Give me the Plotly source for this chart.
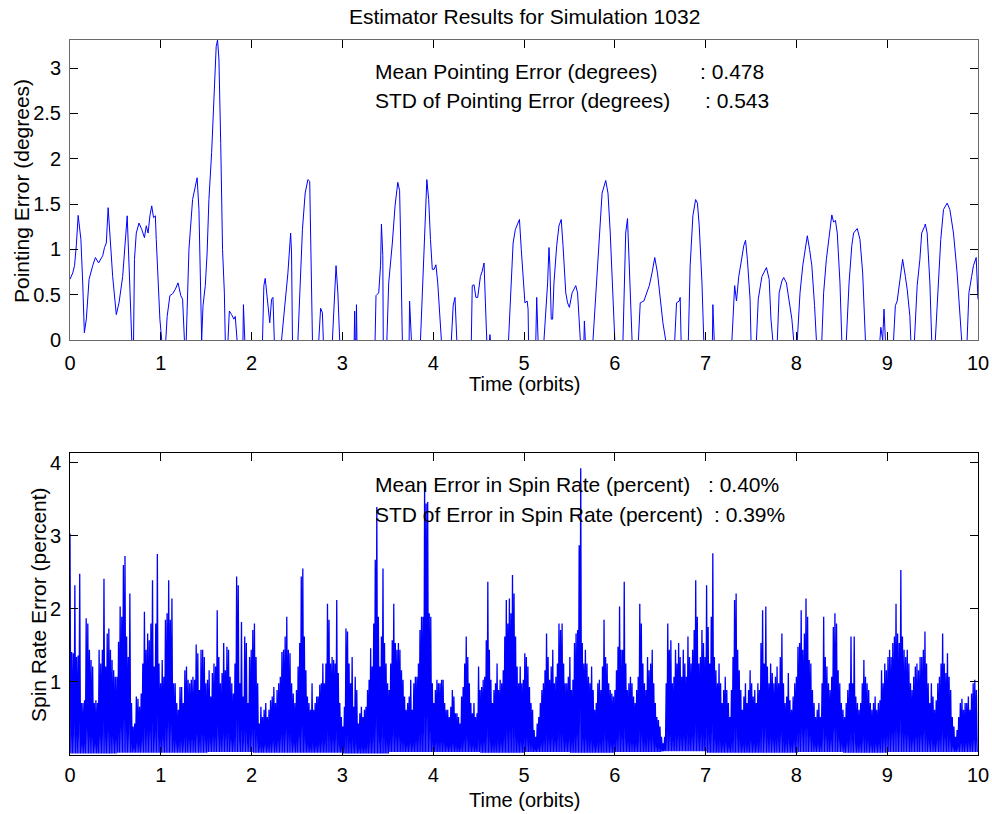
import numpy as np
import plotly.graph_objects as go

# ---------------- data ----------------
# Pointing error (degrees) vs time (orbits); None marks samples with no valid estimate
point_t = [
    0.00, 0.03, 0.05, 0.07, 0.09, 0.12, 0.14, 0.158, 0.18, 0.21, 0.25, 0.28, 0.315, 0.36, 0.38, 0.40, 0.42, 0.44,
    0.47, 0.51, 0.54, 0.58, 0.61, 0.63, 0.66, 0.68, None,
    0.70, 0.71, 0.73, 0.76, 0.79, 0.82, 0.84, 0.86, 0.88, 0.90, 0.92, 0.94, 0.95, 0.97, 0.99, 1.01, None,
    1.055, 1.07, 1.10, 1.13, 1.16, 1.19, 1.22, 1.24, 1.26, None,
    1.28, 1.31, 1.35, 1.38, 1.40, 1.42, 1.44, 1.45, 1.465, 1.49, 1.51, 1.53, 1.56, 1.59, 1.61, 1.625, 1.64, 1.66,
    1.68, 1.70, 1.71, None,
    1.74, 1.755, 1.78, 1.805, 1.82, 1.84, None,
    1.905, 1.91, 1.925, None,
    2.12, 2.135, 2.15, 2.17, 2.20, 2.22, 2.235, 2.25, None,
    2.33, 2.36, 2.38, 2.40, 2.43, 2.44, 2.45, None,
    2.51, 2.54, 2.56, 2.59, 2.62, 2.64, 2.65, 2.67, None,
    2.74, 2.76, 2.78, 2.79, None,
    2.89, 2.91, 2.93, 2.95, 2.97, None,
    3.13, 3.135, 3.14, 3.15, 3.155, 3.16, None,
    3.36, 3.37, 3.40, 3.42, 3.43, 3.445, 3.45, None,
    3.49, 3.51, 3.55, 3.58, 3.61, 3.63, 3.64, 3.66, None,
    3.735, 3.74, 3.76, None,
    3.86, 3.88, 3.91, 3.93, 3.95, 3.97, 3.99, 4.01, 4.03, 4.05, 4.07, 4.09, None,
    4.20, 4.22, 4.24, 4.26, None,
    4.42, 4.43, 4.45, 4.47, 4.49, 4.52, 4.54, 4.56, 4.575, 4.59, None,
    4.62, 4.625, 4.63, None,
    4.83, 4.85, 4.88, 4.905, 4.95, 4.97, 4.99, 5.01, 5.035, 5.045, 5.05, None,
    5.13, 5.14, 5.155, None,
    5.22, 5.24, 5.26, 5.275, 5.285, 5.30, 5.315, 5.33, 5.36, 5.385, 5.41, 5.43, 5.46, 5.48, 5.50, 5.53, 5.57,
    5.59, 5.62, None,
    5.66, 5.665, 5.675, None,
    5.76, 5.79, 5.83, 5.86, 5.90, 5.925, 5.95, 5.98, 6.00, None,
    6.09, 6.12, 6.14, 6.16, 6.19, None,
    6.26, 6.28, 6.32, 6.35, 6.38, 6.41, 6.44, 6.47, 6.50, 6.53, 6.56, None,
    6.66, 6.68, 6.71, 6.72, 6.73, None,
    6.81, 6.83, 6.86, 6.89, 6.91, 6.93, 6.96, 6.98, None,
    7.075, 7.08, 7.095, None,
    7.29, 7.32, 7.34, 7.365, 7.39, 7.42, 7.44, 7.46, 7.49, 7.50, None,
    7.56, 7.58, 7.62, 7.65, 7.67, 7.70, 7.72, 7.74, None,
    7.79, 7.81, 7.84, 7.86, 7.89, 7.92, 7.95, 7.97, None,
    8.01, 8.04, 8.07, 8.10, 8.12, 8.145, 8.17, 8.20, 8.22, None,
    8.28, 8.30, 8.33, 8.37, 8.39, 8.41, 8.43, 8.45, 8.48, 8.50, None,
    8.55, 8.58, 8.61, 8.63, 8.67, 8.70, 8.73, 8.75, 8.76, None,
    8.92, 8.93, 8.95, 8.965, 8.98, None,
    9.07, 9.09, 9.11, 9.14, 9.17, 9.20, 9.22, 9.25, 9.26, None,
    9.30, 9.33, 9.36, 9.38, 9.41, 9.42, 9.44, 9.47, 9.49, None,
    9.53, 9.56, 9.59, 9.62, 9.66, 9.69, 9.73, 9.77, 9.80, 9.82, None,
    9.88, 9.90, 9.93, 9.95, 9.98, 10.00,
]
point_err = [
    0.67, 0.74, 0.82, 1.05, 1.375, 1.11, 0.63, 0.08, 0.23, 0.67, 0.82, 0.91, 0.85, 0.93, 1.02, 1.07, 1.46, 1.11,
    0.70, 0.28, 0.41, 0.70, 1.11, 1.37, 0.56, 0.0, None,
    0.0, 0.89, 1.18, 1.29, 1.22, 1.13, 1.26, 1.18, 1.37, 1.48, 1.35, 1.37, 1.11, 0.63, 0.23, 0.0, None,
    0.0, 0.26, 0.49, 0.51, 0.56, 0.63, 0.49, 0.45, 0.0, None,
    0.0, 1.00, 1.55, 1.70, 1.79, 1.44, 0.52, 0.0, 0.38, 0.60, 0.96, 1.55, 2.07, 2.80, 3.24, 3.31, 3.10, 2.17,
    1.00, 0.52, 0.0, None,
    0.0, 0.32, 0.28, 0.23, 0.26, 0.0, None,
    0.0, 0.39, 0.0, None,
    0.0, 0.60, 0.68, 0.45, 0.19, 0.45, 0.47, 0.0, None,
    0.0, 0.34, 0.52, 0.74, 1.18, 0.96, 0.0, None,
    0.0, 0.63, 1.22, 1.62, 1.77, 1.75, 1.26, 0.0, None,
    0.0, 0.35, 0.30, 0.0, None,
    0.0, 0.49, 0.82, 0.52, 0.0, None,
    0.0, 0.32, 0.0, 0.0, 0.39, 0.0, None,
    0.0, 0.49, 0.52, 0.82, 1.28, 0.93, 0.0, None,
    0.0, 0.63, 1.07, 1.48, 1.74, 1.65, 1.18, 0.0, None,
    0.0, 0.43, 0.0, None,
    0.0, 0.60, 1.26, 1.77, 1.55, 1.11, 0.78, 0.78, 0.83, 0.63, 0.26, 0.0, None,
    0.0, 0.38, 0.47, 0.0, None,
    0.0, 0.60, 0.61, 0.47, 0.47, 0.70, 0.76, 0.85, 0.41, 0.0, None,
    0.0, 0.06, 0.0, None,
    0.0, 0.41, 1.07, 1.22, 1.33, 1.00, 0.63, 0.41, 0.43, 0.34, 0.0, None,
    0.0, 0.47, 0.0, None,
    0.0, 0.30, 0.63, 1.02, 0.82, 0.23, 0.23, 0.63, 1.04, 1.26, 1.33, 1.04, 0.52, 0.41, 0.36, 0.52, 0.60,
    0.52, 0.0, None,
    0.0, 0.21, 0.0, None,
    0.0, 0.52, 1.18, 1.62, 1.76, 1.62, 1.18, 0.52, 0.0, None,
    0.0, 1.18, 1.34, 0.82, 0.0, None,
    0.0, 0.41, 0.43, 0.52, 0.60, 0.74, 0.91, 0.74, 0.45, 0.19, 0.0, None,
    0.0, 0.41, 0.43, 0.47, 0.0, None,
    0.0, 0.82, 1.37, 1.55, 1.51, 1.26, 0.63, 0.0, None,
    0.0, 0.39, 0.0, None,
    0.0, 0.60, 0.43, 0.70, 0.85, 1.04, 1.10, 0.89, 0.45, 0.0, None,
    0.0, 0.45, 0.70, 0.76, 0.80, 0.67, 0.23, 0.0, None,
    0.0, 0.52, 0.65, 0.69, 0.63, 0.45, 0.23, 0.0, None,
    0.0, 0.52, 0.82, 1.00, 1.15, 1.00, 0.82, 0.38, 0.0, None,
    0.0, 0.52, 0.89, 1.18, 1.38, 1.30, 1.32, 1.18, 0.63, 0.0, None,
    0.0, 0.63, 1.04, 1.18, 1.23, 1.11, 0.74, 0.30, 0.0, None,
    0.0, 0.14, 0.0, 0.34, 0.0, None,
    0.0, 0.38, 0.43, 0.67, 0.89, 0.70, 0.56, 0.26, 0.0, None,
    0.0, 0.60, 0.89, 1.18, 1.25, 1.28, 1.18, 0.63, 0.0, None,
    0.0, 0.63, 1.11, 1.44, 1.51, 1.44, 1.18, 0.74, 0.23, 0.0, None,
    0.0, 0.52, 0.70, 0.82, 0.91, 0.45,
]

# Spin-rate error (percent): sample peaks over four time spans (orbits)
spin_bounds = [0.0, 2.53, 5.06, 7.61, 10.0]
spin_a = [
    3.03, 1.41, 1.39, 2.32, 1.34, 1.36, 2.48, 0.71, 0.71, 0.75, 1.87, 1.80, 1.44, 1.30, 1.21, 0.71, 0.75, 0.71,
    1.44, 1.25, 1.44, 2.41, 1.21, 1.66, 1.73, 1.44, 1.30, 1.16, 1.07, 1.07, 1.55, 2.03, 1.89, 2.60, 2.72, 1.62,
    1.34, 2.21, 0.71, 0.39, 0.43, 0.80, 0.77, 0.66, 0.84, 1.25, 1.96, 1.44, 1.66, 1.57, 1.80, 2.39, 1.21, 1.80,
    2.75, 1.25, 0.98, 1.30, 1.07, 1.85, 1.94, 2.39, 1.85, 2.14, 0.98, 0.98, 0.71, 0.62, 0.93, 0.93, 0.71, 1.16,
    1.21, 1.03, 0.98, 1.03, 1.07, 1.03, 1.51, 1.39, 0.89, 1.44, 1.44, 1.34, 0.98, 1.03, 1.16, 0.80, 1.12, 1.25,
    1.21, 1.98, 1.34, 0.98, 1.12, 1.53, 1.16, 1.48, 1.44, 1.07, 0.98, 0.84, 1.25, 2.44, 2.32, 0.98, 1.82, 0.80,
    1.62, 1.53, 0.71, 1.34, 1.44, 1.71, 1.80, 1.34, 0.98, 0.43, 0.66, 0.52, 0.62, 0.71, 0.52, 0.62, 0.75, 0.80,
    0.93, 0.71, 0.89, 0.98, 1.07, 1.41, 1.44, 1.62, 1.89, 1.44, 1.39, 0.98, 0.84, 0.71, 0.89, 1.21,
]
spin_b = [
    1.53, 2.44, 2.55, 1.62, 1.16, 0.80, 0.71, 0.62, 0.98, 0.62, 0.71, 0.80, 0.80, 0.96, 0.98, 1.25, 0.98, 1.25,
    2.07, 1.85, 1.25, 1.34, 1.30, 1.25, 2.12, 1.12, 0.71, 0.52, 0.39, 0.66, 1.73, 1.69, 1.25, 0.98, 1.34, 0.66,
    1.07, 0.89, 0.43, 0.57, 0.66, 0.52, 0.62, 0.66, 0.89, 1.03, 1.46, 1.21, 1.80, 2.67, 3.39, 1.89, 1.21, 1.62,
    2.55, 1.53, 1.25, 0.98, 0.89, 1.25, 1.57, 2.07, 1.53, 1.44, 1.53, 1.44, 1.16, 1.03, 0.80, 0.62, 0.71, 0.80,
    1.03, 0.62, 0.98, 1.07, 1.07, 1.25, 1.71, 1.89, 1.89, 3.71, 3.44, 3.46, 1.94, 1.89, 0.98, 0.71, 0.89, 1.03,
    0.98, 0.98, 1.03, 1.03, 0.71, 0.62, 0.62, 0.52, 0.66, 0.89, 0.80, 0.57, 0.57, 0.52, 0.43, 0.80, 0.93, 1.25,
    1.62, 1.34, 0.98, 0.71, 0.57, 0.71, 0.52, 0.57, 1.21, 0.89, 0.93, 1.03, 1.07, 1.57, 2.37, 1.44, 1.03, 0.71,
    0.89, 0.98, 1.25, 0.89, 1.03, 0.98, 1.16, 1.62, 2.12, 1.80, 2.14, 1.94, 2.46, 2.21, 1.62, 1.21, 0.98, 1.21,
    0.98, 1.03, 1.39, 1.34, 1.21,
]
spin_c = [
    0.93, 0.71, 0.62, 0.34, 0.25, 0.43, 0.52, 0.71, 0.89, 0.98, 1.16, 1.66, 1.34, 1.03, 1.21, 1.44, 0.98, 1.07,
    1.25, 1.80, 1.71, 1.80, 1.25, 0.98, 0.98, 1.07, 1.34, 0.89, 1.03, 1.53, 1.66, 1.71, 2.87, 3.92, 1.53, 1.25,
    1.44, 1.25, 1.07, 0.98, 1.21, 0.89, 0.62, 0.71, 0.98, 1.03, 0.89, 1.21, 1.85, 1.34, 1.25, 0.98, 0.89, 0.84,
    0.80, 0.89, 1.16, 1.48, 2.03, 1.44, 1.44, 2.37, 1.25, 0.89, 0.98, 1.07, 0.98, 0.80, 0.71, 0.89, 1.07, 2.07,
    1.80, 1.25, 0.98, 0.89, 1.34, 1.16, 1.25, 1.44, 0.98, 0.71, 0.52, 0.48, 0.39, 0.25, 0.16, 0.25, 0.98, 1.80,
    1.44, 1.57, 0.98, 1.07, 1.44, 1.25, 1.53, 1.34, 1.07, 1.44, 1.25, 1.07, 1.62, 1.34, 1.25, 1.44, 1.71, 2.39,
    1.89, 1.25, 1.34, 1.71, 1.53, 1.34, 2.32, 1.75, 1.25, 1.89, 2.76, 1.34, 1.16, 0.98, 1.25, 0.98, 0.71, 0.89,
    1.07, 0.89, 0.71, 0.52, 0.89, 1.34, 2.12, 2.21, 1.44, 1.16, 0.89, 0.62, 0.80, 0.98, 0.71, 0.89, 1.16, 0.98,
    0.80, 0.89, 0.71, 0.98, 0.89,
]
spin_d = [
    1.53, 1.98, 1.25, 2.03, 1.21, 0.98, 1.25, 1.12, 0.98, 1.07, 1.21, 0.98, 1.34, 1.66, 0.98, 0.71, 0.80, 1.12,
    0.75, 0.62, 0.80, 0.98, 1.07, 1.48, 1.53, 1.98, 1.44, 1.66, 2.14, 1.89, 1.30, 1.25, 0.89, 0.71, 0.52, 0.62,
    0.71, 0.52, 0.98, 1.89, 1.34, 1.21, 0.98, 0.89, 1.07, 1.75, 1.94, 1.80, 1.16, 0.98, 0.71, 0.62, 0.52, 0.71,
    0.89, 0.98, 1.62, 0.98, 1.62, 0.80, 0.71, 0.62, 0.71, 0.98, 1.30, 1.07, 0.98, 0.89, 0.71, 0.62, 0.71, 0.80,
    0.62, 0.71, 0.75, 1.16, 0.98, 1.25, 1.16, 1.34, 1.44, 1.34, 1.53, 1.62, 2.07, 1.66, 1.53, 2.53, 1.62, 1.44,
    1.34, 1.44, 1.25, 0.98, 0.89, 1.07, 1.21, 1.25, 1.16, 1.34, 1.34, 1.44, 1.69, 1.25, 0.98, 0.71, 0.98, 0.80,
    0.62, 0.75, 0.98, 1.07, 1.25, 1.66, 1.25, 1.12, 1.39, 1.07, 0.89, 0.52, 0.39, 0.25, 0.34, 0.52, 0.71, 0.77,
    0.62, 0.71, 0.71, 0.80, 0.62, 0.84, 0.98, 1.03, 0.89,
]
# Minimum of the spin-rate error in each half orbit
spin_floor = [0.02, 0.03, 0.03, 0.04, 0.03, 0.03, 0.02, 0.04, 0.04, 0.03,
              0.04, 0.03, 0.04, 0.05, 0.03, 0.03, 0.04, 0.03, 0.04, 0.04]

x_ticks = list(range(0, 11))
point_yticks = [0, 0.5, 1, 1.5, 2, 2.5, 3]
point_ytext = ["0", "0.5", "1", "1.5", "2", "2.5", "3"]
spin_yticks = [1, 2, 3, 4]

title_text = "Estimator Results for Simulation 1032"
point_stats = [("Mean Pointing Error (degrees)", ": 0.478"),
               ("STD of Pointing Error (degrees)", ": 0.543")]
spin_stats = [("Mean Error in Spin Rate (percent)", ": 0.40%"),
              ("STD of Error in Spin Rate (percent)", ": 0.39%")]

# ---------------- build spin trace: each peak followed by the floor value ----------------
spin_t, spin_v = [], []
for seg, (t0, t1) in zip([spin_a, spin_b, spin_c, spin_d], zip(spin_bounds[:-1], spin_bounds[1:])):
    ts = np.linspace(t0, t1, len(seg), endpoint=False)
    half = (t1 - t0) / len(seg) / 2
    for t, v in zip(ts, seg):
        lo = spin_floor[min(int(t / 0.5), len(spin_floor) - 1)]
        spin_t += [t, t + half]
        spin_v += [v, lo]

# ---------------- figure ----------------
W, H = 992, 814
FONT = "Liberation Sans, Arial, sans-serif"


def px(x):
    return x / W


def py(y):
    return 1 - y / H


fig = go.Figure()
fig.add_trace(go.Scatter(x=point_t, y=point_err, mode="lines", connectgaps=False,
                         line=dict(color="#0000ff", width=1), xaxis="x", yaxis="y",
                         hoverinfo="skip", showlegend=False))
fig.add_trace(go.Scatter(x=spin_t, y=spin_v, mode="lines",
                         line=dict(color="#0000ff", width=1.3), xaxis="x2", yaxis="y2",
                         hoverinfo="skip", showlegend=False))

ax_common = dict(showgrid=False, zeroline=False, showline=True, mirror="ticks", ticks="inside",
                 ticklen=8, tickwidth=1, tickcolor="#000000", linewidth=1, automargin=False,
                 tickfont=dict(family=FONT, size=20, color="#000000"))

x_dom = [px(70), px(978)]
fig.update_layout(
    width=W, height=H, margin=dict(l=0, r=0, t=0, b=0, autoexpand=False),
    paper_bgcolor="white", plot_bgcolor="white", showlegend=False,
    xaxis=dict(domain=x_dom, anchor="y", range=[0, 10], tickvals=x_ticks, linecolor="#6a6a6a",
               ticklabelstandoff=5, **ax_common),
    yaxis=dict(domain=[py(340), py(40)], anchor="x", range=[0, 3.31], tickvals=point_yticks,
               ticktext=point_ytext, linecolor="#6a6a6a", ticklabelstandoff=4, **ax_common),
    xaxis2=dict(domain=x_dom, anchor="y2", range=[0, 10], tickvals=x_ticks, linecolor="#000000",
                ticklabelstandoff=2, **ax_common),
    yaxis2=dict(domain=[py(755), py(453)], anchor="x2", range=[0.0, 4.13], tickvals=spin_yticks,
                linecolor="#000000", ticklabelstandoff=4, **ax_common),
)

annotations = []


def add_text(text, x, y, size=21, xanchor="left", angle=0):
    annotations.append(dict(text=text, x=px(x), y=py(y), xref="paper", yref="paper",
                            xanchor=xanchor, yanchor="middle", showarrow=False, textangle=angle,
                            font=dict(family=FONT, size=size, color="#000000")))


add_text(title_text, 524, 16, xanchor="center")
add_text("Time (orbits)", 524, 384, size=20, xanchor="center")
add_text("Time (orbits)", 524, 800, size=20, xanchor="center")
add_text("Pointing Error (degrees)", 21, 191, xanchor="center", angle=-90)
add_text("Spin Rate Error (percent)", 38, 605, xanchor="center", angle=-90)

for (label, val), yy, vx in zip(point_stats, [71, 100], [698, 703]):
    add_text(label, 373, yy)
    add_text(val, vx, yy)
for (label, val), yy, vx in zip(spin_stats, [484, 514], [706, 712]):
    add_text(label, 373, yy)
    add_text(val, vx, yy)

fig.update_layout(annotations=annotations)
fig.write_html("out.html")
